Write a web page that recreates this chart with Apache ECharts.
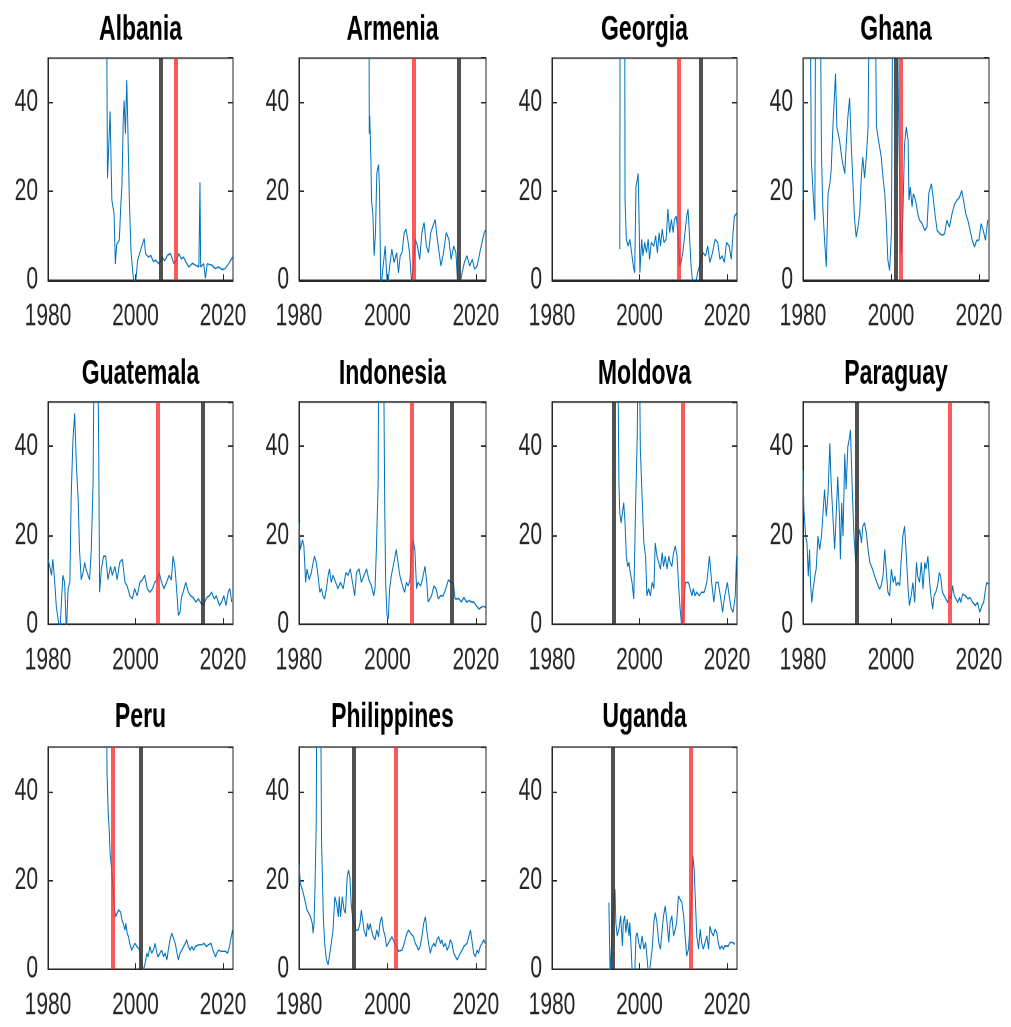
<!DOCTYPE html>
<html>
<head>
<meta charset="utf-8">
<script src="https://cdn.jsdelivr.net/npm/echarts@6/dist/echarts.min.js"></script>
<style>
  html, body { margin: 0; padding: 0; background: #fff; }
  #page { width: 1011px; height: 1027px; overflow: hidden; }
  /* the reference is stretched vertically, so draw flat and stretch */
  #chart { width: 1011px; height: 685px; transform: scaleY(1.4993); transform-origin: 0 0; }
</style>
</head>
<body>
<div id="page"><div id="chart"></div></div>
<script>
// monthly inflation as [year, percent]
// 80 = off the top of the axis, -2 = below zero
const albania = [[1993.3,80],[1993.6,23],[1994.2,38],[1994.6,18],[1995.1,15],[1995.4,3.7],[1995.7,8],[1996.3,9],[1996.7,18],[1996.9,21],[1997.2,36],[1997.4,40.5],[1997.7,33],[1998,45],[1998.2,37],[1998.6,18],[1999,6],[1999.5,0.7],[2000,-1],[2000.5,4.5],[2000.8,5],[2001.4,7.5],[2002,9.4],[2002.3,6],[2003,5.2],[2003.5,5.6],[2004.1,4.2],[2004.6,4.5],[2005.4,3.7],[2006.1,5.2],[2006.7,4.4],[2007.3,5.6],[2008,6],[2008.8,3.7],[2009.4,4.5],[2009.9,6],[2010.5,4.8],[2011,5.2],[2011.6,4],[2012.2,3],[2013,3.8],[2013.7,3.4],[2014.5,3],[2014.75,22],[2014.9,3],[2015.6,3.7],[2016,0.4],[2016.4,3.7],[2017.5,3.4],[2018.2,2.6],[2019,3],[2019.8,2.4],[2020.5,2.6],[2021.3,3.7],[2022.2,5.2]];
const armenia = [[1995.8,80],[1995.9,33],[1996,37],[1996.3,25.7],[1996.4,18],[1996.7,15],[1997,5.5],[1997.3,10.7],[1997.6,24],[1998,26],[1998.2,21],[1998.5,-2],[1998.9,-2],[1999.5,7.7],[2000,-2],[2000.5,3.2],[2001,7],[2001.5,4],[2002.1,6.2],[2002.5,1.7],[2002.9,5.5],[2003.3,6.2],[2003.8,10.7],[2004.2,11.5],[2004.6,9.2],[2005,6.2],[2005.5,-1],[2005.9,-1],[2006.3,9.2],[2006.8,7.7],[2007.3,4.7],[2007.8,10.7],[2008.3,13],[2008.8,7.7],[2009.3,6.2],[2009.8,10.7],[2010.3,12.2],[2010.8,13.7],[2011.2,10],[2011.7,6.2],[2012.1,3.2],[2012.7,6.2],[2013.3,10.7],[2013.9,9.2],[2014.4,4.7],[2015,7.7],[2015.5,6.2],[2015.9,-1],[2016.4,-1],[2016.9,1.7],[2017.4,4],[2018,5.5],[2018.6,3.2],[2019.2,4.7],[2019.7,2.5],[2020.3,3.2],[2020.9,6.2],[2021.4,8.5],[2021.9,10.7],[2022.3,11.5]];
const georgia = [[1995.5,7],[1995.6,80],[1996.6,80],[1996.7,18],[1997,9.2],[1997.4,7.7],[1997.8,9.2],[1998.2,6.2],[1998.6,3.2],[1998.9,1.7],[1999.2,21],[1999.5,22.7],[1999.7,24],[1999.9,14.4],[2000.1,1.7],[2000.5,9.2],[2000.8,5.5],[2001.2,8.5],[2001.6,6.2],[2002,9.2],[2002.3,4.7],[2002.7,8.5],[2003.3,7.7],[2003.7,10],[2004.1,6.2],[2004.5,10.7],[2004.8,7.7],[2005.2,11.5],[2005.6,8.5],[2006.1,9.2],[2006.5,16],[2006.9,10.7],[2007.3,13.7],[2007.7,10.7],[2008,13.7],[2008.4,14.4],[2008.8,10.7],[2009.2,3.2],[2009.5,4],[2009.9,6.2],[2010.4,10.7],[2010.8,14.4],[2011.1,16],[2011.4,10.7],[2011.8,3.2],[2012.2,-1],[2012.8,-1],[2013.3,1.7],[2013.7,3.2],[2014.1,4.7],[2014.5,6.2],[2015.1,5.5],[2015.6,7.7],[2016.1,4],[2016.7,6.2],[2017.3,9.2],[2017.9,8.5],[2018.4,4.7],[2018.9,5.5],[2019.4,4],[2019.9,8.5],[2020.5,7.7],[2021,4.7],[2021.4,10.7],[2021.7,14.4],[2022.2,15]];
const ghana = [[1980,18],[1980.2,80],[1981.5,80],[1981.9,27],[1982.3,19.5],[1982.7,13.5],[1982.9,80],[1983.8,80],[1984.2,28.5],[1984.5,16.5],[1984.9,9],[1985.3,3],[1985.7,19.5],[1986.1,21.7],[1986.4,24.7],[1986.8,34.5],[1987.4,46.5],[1987.7,34.5],[1988.3,31.5],[1988.9,27],[1989.5,24],[1989.8,30],[1990.2,36.7],[1990.6,41],[1991,30],[1991.4,21],[1991.7,14],[1992.1,9.7],[1992.5,12],[1992.9,15],[1993.3,24],[1993.6,27.7],[1994,23],[1994.4,27.7],[1994.8,34.5],[1995.2,80],[1996.3,80],[1996.7,34.5],[1997.3,30.7],[1997.8,27.7],[1998.2,23],[1998.6,19.5],[1998.9,14.2],[1999.3,4.5],[1999.7,2.2],[2000.1,10.5],[2000.5,80],[2001.2,80],[2001.8,33],[2002.3,6],[2002.7,14.2],[2003.1,30.7],[2003.5,34.5],[2003.9,31.5],[2004.1,18],[2004.4,21],[2004.8,16.5],[2005.1,19.5],[2005.6,18],[2006.1,15],[2006.5,13.5],[2007.1,12.7],[2007.7,11.2],[2008.2,12],[2008.6,19.5],[2009.2,21.7],[2009.5,19.5],[2010,15],[2010.5,11.2],[2011.1,10.5],[2011.7,10.1],[2012.2,10.5],[2012.7,13.5],[2013.3,12],[2013.9,15],[2014.5,17.2],[2015,18],[2015.6,18.7],[2016.1,20.2],[2016.5,18],[2017,15],[2017.5,13.5],[2018,11.2],[2018.5,9],[2019,7.5],[2019.5,9],[2020,9],[2020.5,12.7],[2021,11.2],[2021.5,9],[2022,13.5]];
const guatemala = [[1980,14.6],[1980.4,13],[1980.8,11],[1981.1,14.6],[1981.5,10],[1981.9,4],[1982.3,1.2],[1982.7,-2],[1983,-2],[1983.4,11],[1983.8,9.4],[1984.2,-2],[1984.6,8],[1985,9.4],[1985.3,28.8],[1985.7,41.4],[1986.1,47.4],[1986.5,35.5],[1986.9,28],[1987.2,16.8],[1987.6,10],[1988,11.6],[1988.4,13.9],[1988.7,12.4],[1989.1,13],[1989.5,10],[1989.9,16.8],[1990.3,31.7],[1990.7,80],[1991.2,80],[1991.6,39],[1991.8,7.2],[1992.2,12.4],[1992.7,15.3],[1993.2,15.3],[1993.7,10],[1994.3,13],[1994.7,11],[1995.3,13],[1995.8,10],[1996.4,13.9],[1997,14.6],[1997.6,9.4],[1998.1,8.6],[1998.7,6.4],[1999.3,5.7],[1999.8,8],[2000.4,6.4],[2001,9.4],[2001.6,10],[2002.1,11],[2002.7,8],[2003.3,7.2],[2003.9,8],[2004.4,9.4],[2005,10],[2005.4,11.6],[2006,9.4],[2006.5,8],[2007.1,9.4],[2007.7,11],[2008.2,10],[2008.6,15.3],[2009,13],[2009.4,8],[2009.8,2],[2010.2,2.7],[2010.5,6],[2010.9,7.2],[2011.5,9.4],[2012.1,7.2],[2012.6,6.4],[2013.2,6],[2013.8,5],[2014.4,5.7],[2015.1,4.5],[2015.6,4.5],[2016.3,6],[2016.9,6.4],[2017.4,7.2],[2018,5.7],[2018.5,6.4],[2019.2,4.2],[2019.7,5],[2020.2,6.4],[2020.7,4.2],[2021.2,7.2],[2021.6,8],[2022,5]];
const indonesia = [[1980,22.8],[1980.3,16.8],[1980.8,19],[1981.1,17.6],[1981.5,9.4],[1981.8,12.4],[1982.3,10],[1982.8,11.6],[1983.2,13.9],[1983.5,15.3],[1983.9,13.9],[1984.3,11],[1984.7,7.2],[1985.1,8],[1985.4,6.4],[1985.8,5.7],[1986.2,8],[1986.6,11],[1986.9,12.4],[1987.3,9.4],[1987.7,11],[1988.3,9.4],[1988.8,8],[1989.4,9.4],[1990,8],[1990.6,11.6],[1991.1,11],[1991.6,12.4],[1992.1,9.4],[1992.6,6.4],[1993,11.6],[1993.6,12.4],[1994.1,9.4],[1994.7,11],[1995.3,12.4],[1995.8,10],[1996.4,8.6],[1996.9,6.4],[1997.2,8],[1997.5,16.8],[1997.9,31.7],[1998.1,80],[1999,80],[1999.4,25.8],[1999.6,9.4],[1999.9,2],[2000.2,1.2],[2000.5,8],[2000.9,11],[2001.3,13],[2001.6,14.6],[2002,16.8],[2002.4,13.9],[2002.8,11],[2003.2,9.4],[2003.6,8],[2003.9,7.2],[2004.3,9.4],[2004.7,8.6],[2005.1,10],[2005.4,15.3],[2005.8,19],[2006.2,16.8],[2006.6,8],[2006.9,9.4],[2007.5,8.6],[2007.9,10],[2008.5,13],[2008.9,9.4],[2009.2,5],[2009.6,5],[2010,6.4],[2010.5,8.6],[2011,8],[2011.5,5.7],[2012,6.4],[2012.6,6.4],[2013.2,8],[2013.8,10],[2014.3,9.4],[2014.9,9.4],[2015.3,5.7],[2015.6,6],[2016.2,5.7],[2016.7,5],[2017.3,6],[2017.9,5],[2018.5,5.3],[2019,5],[2019.5,5],[2020.1,4.2],[2020.7,3.4],[2021.2,3.8],[2021.7,4],[2022.2,3.8]];
const moldova = [[1994.9,80],[1995.1,80],[1995.3,31.7],[1995.5,25],[1995.8,22.8],[1996.1,25],[1996.4,27.3],[1996.7,22.8],[1997,15.3],[1997.3,13],[1997.6,13.9],[1997.9,11.6],[1998.3,9.4],[1998.7,5.7],[1999.1,25.8],[1999.5,42.9],[1999.8,80],[2000.2,39.2],[2000.6,28.8],[2001,18.3],[2001.4,15.3],[2001.7,6.4],[2002.1,8],[2002.5,6.4],[2002.9,9.4],[2003.3,8],[2003.6,18.3],[2004,15.3],[2004.4,13.9],[2004.8,12.4],[2005.2,16.1],[2005.5,13],[2005.9,15.3],[2006.3,12.4],[2006.7,15.3],[2007,13.9],[2007.4,13],[2007.8,16.1],[2008.2,17.6],[2008.6,15.3],[2008.9,9.4],[2009.3,3.4],[2009.7,-1],[2010.1,-1],[2010.5,9.4],[2010.8,10],[2011.2,9.4],[2011.6,10],[2012,6.4],[2012.3,8],[2012.7,6.4],[2013.1,7.2],[2013.7,6.4],[2014.2,7.2],[2014.8,7.2],[2015.4,9.4],[2016,15.3],[2016.5,9.4],[2017,5],[2017.5,9.4],[2018,9.4],[2018.6,5.7],[2019,2.7],[2019.5,6.4],[2020.1,9.4],[2020.5,6.4],[2021,3.4],[2021.4,2.7],[2021.9,6.4],[2022.2,15.3]];
const paraguay = [[1980,34.7],[1980.2,25.8],[1980.6,19.8],[1980.9,18.3],[1981.2,10.8],[1981.5,16.8],[1981.7,9.4],[1982,4.9],[1982.3,7.9],[1982.7,10.8],[1983,12.4],[1983.4,19.8],[1983.8,16.8],[1984.2,19.8],[1984.5,24.3],[1984.9,30.3],[1985.3,24.3],[1985.7,29.5],[1986.1,40.7],[1986.4,31.7],[1986.8,24.3],[1987.2,16.8],[1987.6,25.8],[1987.9,33.2],[1988.3,24.3],[1988.5,14.6],[1988.8,27.3],[1989.1,19.8],[1989.5,38.4],[1989.8,30.3],[1990.2,40],[1990.6,42.1],[1990.8,43.7],[1991.2,30.3],[1991.6,19.8],[1992,13.9],[1992.3,17.6],[1992.9,21.3],[1993.3,18.3],[1993.6,22],[1994,22.8],[1994.4,20.6],[1994.8,16.8],[1995.2,13.9],[1995.8,12.4],[1996.3,10.8],[1996.8,9.4],[1997.4,7.9],[1997.8,8.7],[1998.2,10.8],[1998.6,16.8],[1998.9,12.4],[1999.3,7.2],[1999.7,6.4],[2000.1,12.4],[2000.5,9.4],[2000.9,10.8],[2001.2,8.7],[2001.6,9.4],[2002,8.7],[2002.3,13.9],[2002.7,19.8],[2003.1,22],[2003.5,15.3],[2003.9,7.9],[2004.2,4.2],[2004.6,6.4],[2005,9.4],[2005.4,4.9],[2005.8,13.9],[2006.1,10.8],[2006.5,9.4],[2006.9,13.9],[2007.3,7.9],[2007.7,13.9],[2008,12.4],[2008.4,15.3],[2008.8,9.4],[2009.1,6.4],[2009.5,3.4],[2009.8,6.4],[2010.2,7.2],[2010.6,8.7],[2011,11.6],[2011.3,10.8],[2011.7,7.2],[2012.1,6.4],[2012.5,5.7],[2012.9,4.9],[2013.3,6.4],[2013.7,5.7],[2014,8.7],[2014.4,6.4],[2014.8,6.8],[2015.2,4.9],[2015.6,6],[2015.9,4.9],[2016.3,6.8],[2016.9,6.4],[2017.5,5.7],[2018,6],[2018.6,4.9],[2019.2,4.2],[2019.7,4.9],[2020.2,2.7],[2020.7,4.2],[2021.1,4.9],[2021.5,7.9],[2021.8,9.4],[2022.1,9]];
const peru = [[1993.2,80],[1993.4,80],[1993.5,44],[1993.8,34.3],[1994,31.3],[1994.2,26],[1994.5,23],[1994.9,17.8],[1995.2,13.3],[1995.5,11.8],[1995.8,12.6],[1996.1,13.3],[1996.6,12.9],[1996.9,11.1],[1997.2,10.3],[1997.6,8.8],[1997.8,10.3],[1998.1,8.1],[1998.4,7.3],[1998.7,5.8],[1999.1,4.3],[1999.5,5.1],[1999.9,5.8],[2000.3,5.1],[2000.7,5.5],[2001,4.3],[2001.4,1.3],[2001.8,-0.3],[2002.2,1.3],[2002.6,3.6],[2002.9,2.8],[2003.3,5.1],[2003.7,3.6],[2004.1,4.3],[2004.5,5.8],[2004.9,3.6],[2005.2,2.8],[2005.6,3.6],[2006,4.3],[2006.4,2.8],[2006.8,3.6],[2007.2,2.1],[2007.5,4.3],[2007.9,6.6],[2008.3,8.1],[2008.7,8.5],[2009.1,5.8],[2009.5,3.6],[2009.8,2.1],[2010.2,3.6],[2010.6,4.3],[2011,4.3],[2011.4,5.8],[2011.7,6.6],[2012.1,5.1],[2012.5,4.3],[2012.9,5.1],[2013.3,4.3],[2013.7,5.1],[2014,5.1],[2014.4,5.5],[2014.8,5.1],[2015.2,5.5],[2015.7,5.8],[2016.2,5.1],[2016.7,5.5],[2017.3,5.8],[2017.7,4.3],[2018.3,2.8],[2018.6,3.6],[2019,4.3],[2019.6,4],[2020,3.6],[2020.6,4],[2021.1,3.6],[2021.5,5.1],[2021.9,7.3],[2022.2,8.8]];
const philippines = [[1980,23.8],[1980.3,19.3],[1980.8,17.8],[1981.1,17.8],[1981.5,14.8],[1981.8,13.3],[1982.2,12.6],[1982.6,11.8],[1983,10.3],[1983.2,8.1],[1983.4,10.3],[1983.6,17.8],[1983.9,32.8],[1984.1,80],[1984.8,80],[1985.1,29],[1985.5,11.8],[1985.8,5.8],[1986.2,2.1],[1986.6,1],[1987,1.3],[1987.3,5.8],[1987.7,8.8],[1988.1,16.3],[1988.5,14.8],[1988.9,11.8],[1989.1,16.3],[1989.4,11.8],[1989.8,16.3],[1990.2,13.3],[1990.5,12.6],[1990.9,20.8],[1991.2,22.3],[1991.5,20.8],[1991.8,14.8],[1992.1,11.8],[1992.4,10.3],[1992.9,8.8],[1993.4,8.8],[1993.8,10.3],[1994.1,13.3],[1994.4,11.1],[1994.7,8.8],[1995.2,7.3],[1995.5,10.3],[1995.8,8.8],[1996.1,10.3],[1996.4,8.8],[1996.8,7.3],[1997.2,6.6],[1997.6,8.8],[1998,7.3],[1998.3,10.3],[1998.7,11.8],[1999.1,8.8],[1999.5,7.3],[1999.8,5.1],[2000.2,5.8],[2000.6,6.6],[2001,7.3],[2001.4,7.3],[2001.7,5.8],[2002.1,5.1],[2002.5,4],[2002.9,4.3],[2003.3,4.3],[2003.6,5.1],[2004,6.6],[2004.4,8.1],[2004.8,8.8],[2005.2,8.1],[2005.5,8.5],[2005.9,7.3],[2006.3,5.8],[2006.7,5.1],[2007,4.3],[2007.4,5.1],[2007.8,7.3],[2008.2,10.3],[2008.6,11.8],[2008.9,8.8],[2009.3,5.8],[2009.7,3.6],[2010.1,5.1],[2010.5,5.8],[2010.8,5.1],[2011.2,6.6],[2011.6,7.3],[2012,5.8],[2012.3,6.6],[2012.7,5.1],[2013.1,5.8],[2013.5,4.3],[2013.9,5.1],[2014.2,6.6],[2014.6,5.8],[2015,3.6],[2015.4,2.8],[2015.8,2.1],[2016.1,2.8],[2016.5,3.6],[2016.9,4.3],[2017.3,5.1],[2017.6,5.1],[2018,5.8],[2018.4,7.3],[2018.8,8.8],[2019.2,5.8],[2019.5,3.6],[2019.9,2.8],[2020.3,4.3],[2020.6,3.6],[2021,5.1],[2021.4,5.8],[2021.8,6.6],[2022.1,5.8]];
const uganda = [[1993,15],[1993.3,-2],[1993.6,-2],[1993.8,10.5],[1994.2,16.5],[1994.4,18],[1994.6,10.5],[1994.9,7.5],[1995.3,9],[1995.7,12],[1996.1,5.2],[1996.3,10.5],[1996.6,12],[1996.9,8.2],[1997.2,11.2],[1997.6,7.5],[1997.8,10.5],[1998.1,4.5],[1998.4,-2],[1998.9,-2],[1999.2,7.5],[1999.5,8.2],[1999.8,6],[2000.2,4.5],[2000.6,7.5],[2001,4.5],[2001.4,6],[2001.7,3],[2002.1,-2],[2002.5,-2],[2002.9,4.5],[2003.3,10.5],[2003.6,12.7],[2004,10.5],[2004.4,6],[2004.8,4.5],[2005.2,9],[2005.5,12],[2005.9,14.2],[2006.3,10.5],[2006.7,6],[2007,10.5],[2007.4,12],[2007.8,7.5],[2008.2,9],[2008.5,10.5],[2008.9,16.5],[2009.3,15.7],[2009.7,15],[2010.1,12],[2010.5,6.7],[2010.8,3],[2011.2,4.5],[2011.6,10.5],[2012,18],[2012.2,25.5],[2012.5,22.5],[2012.8,15],[2013.1,7.5],[2013.5,4.5],[2013.9,9],[2014.2,6],[2014.6,4.5],[2015,6],[2015.4,7.5],[2015.8,4.5],[2016.1,9.7],[2016.5,8.2],[2016.9,7.5],[2017.3,9],[2017.7,8.2],[2018,6],[2018.4,4.5],[2018.8,5.2],[2019.2,4.5],[2019.5,5.2],[2019.9,4.9],[2020.3,5.2],[2020.7,6],[2021.1,5.6],[2021.4,6],[2021.8,5.6]];

const countries = ['Albania', 'Armenia', 'Georgia', 'Ghana', 'Guatemala', 'Indonesia', 'Moldova', 'Paraguay', 'Peru', 'Philippines', 'Uganda'];
const series = [albania, armenia, georgia, ghana, guatemala, indonesia, moldova, paraguay, peru, philippines, uganda];
// vertical markers (years)
const redYears = [2009.2, 2006.0, 2008.9, 2002.2, 2005.0, 2005.5, 2010.0, 2013.3, 1994.8, 2001.9, 2011.8];
const grayYears = [2005.7, 2016.2, 2013.9, 2001.1, 2015.4, 2014.6, 1994.2, 1992.3, 2001.2, 1992.3, 1994.0];
const xTicks = [1980, 2000, 2020];
const yTicks = [0, 20, 40];

// panel layout, in the unstretched space
const colLeft = [48, 299, 552, 803];
const colWidth = [185, 187, 185, 186];
const rowTop = [38.7, 268.1, 498.2];
const rowHeight = 148.2;
const titleTop = [8.5, 238, 467];

const font = 'Liberation Sans, Helvetica, Arial, sans-serif';
const axisColor = '#262626';

const chart = echarts.init(document.getElementById('chart'), null, { devicePixelRatio: 2 });

const option = {
  animation: false,
  backgroundColor: '#fff',
  title: [],
  grid: [],
  xAxis: [],
  yAxis: [],
  series: [],
};

countries.forEach((name, i) => {
  const col = i % 4;
  const row = Math.floor(i / 4);
  option.title.push({
    text: name,
    left: colLeft[col] + colWidth[col] / 2,
    top: titleTop[row],
    textAlign: 'center',
    padding: 0,
    textStyle: { fontFamily: font, fontSize: 23, fontWeight: 'bold', color: '#000' },
  });
  option.grid.push({
    left: colLeft[col],
    top: rowTop[row],
    width: colWidth[col],
    height: rowHeight,
    show: true,
    borderColor: axisColor,
    borderWidth: 1,
    backgroundColor: '#fff',
  });
  option.xAxis.push({
    type: 'value',
    gridIndex: i,
    min: xTicks[0],
    max: 2022.3,
    interval: 20,
    splitLine: { show: false },
    axisLine: { show: true, onZero: false, lineStyle: { color: axisColor, width: 1 } },
    axisTick: { show: true, inside: true, length: 4, lineStyle: { color: axisColor } },
    axisLabel: {
      margin: 14,
      fontFamily: font,
      fontSize: 21,
      color: axisColor,
      showMaxLabel: false,
      formatter: v => (xTicks.includes(v) ? String(v) : ''),
    },
  });
  // left axis with labels
  option.yAxis.push({
    type: 'value',
    gridIndex: i,
    min: 0,
    max: 50,
    interval: 20,
    splitLine: { show: false },
    axisLine: { show: true, lineStyle: { color: axisColor, width: 1 } },
    axisTick: { show: true, inside: true, length: 5, lineStyle: { color: axisColor } },
    axisLabel: {
      margin: 10,
      fontFamily: font,
      fontSize: 21,
      color: axisColor,
      showMaxLabel: false,
      formatter: v => (yTicks.includes(v) ? String(v) : ''),
    },
  });
});

// right-hand axes only carry the inner ticks
countries.forEach((name, i) => {
  option.yAxis.push({
    type: 'value',
    gridIndex: i,
    position: 'right',
    min: 0,
    max: 50,
    interval: 20,
    splitLine: { show: false },
    axisLine: { show: false },
    axisTick: { show: true, inside: true, length: 5, lineStyle: { color: axisColor } },
    axisLabel: { show: false },
  });
});

countries.forEach((name, i) => {
  option.series.push({
    name: name,
    type: 'line',
    xAxisIndex: i,
    yAxisIndex: i,
    data: series[i],
    showSymbol: false,
    clip: true,
    lineStyle: { color: '#0072BD', width: 1 },
    markLine: {
      silent: true,
      symbol: 'none',
      label: { show: false },
      data: [
        { xAxis: grayYears[i], lineStyle: { color: '#333333', width: 4, type: 'solid', opacity: 0.85 } },
        { xAxis: redYears[i], lineStyle: { color: '#ff2a2a', width: 4, type: 'solid', opacity: 0.78 } },
      ],
    },
  });
});

chart.setOption(option);
</script>
</body>
</html>
